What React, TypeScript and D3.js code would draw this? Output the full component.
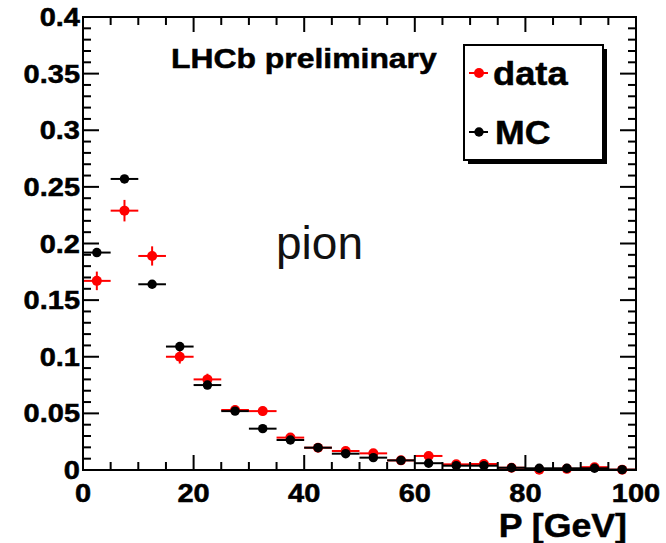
import React from "react";
import * as d3 from "d3";

// Momentum bins (GeV): 5 GeV wide, centres 2.5 ... 97.5
const binCentres = [2.5, 7.5, 12.5, 17.5, 22.5, 27.5, 32.5, 37.5, 42.5, 47.5, 52.5, 57.5, 62.5, 67.5, 72.5, 77.5, 82.5, 87.5, 92.5, 97.5];
const binHalfWidth = 2.5;

const dataValues = [0.167, 0.229, 0.189, 0.100, 0.080, 0.053, 0.052, 0.0286, 0.0197, 0.0168, 0.0147, 0.0085, 0.0124, 0.005, 0.0053, 0.002, 0.0003, 0.001, 0.0025, 0.0003];
const dataErrors = [0.0082, 0.0095, 0.0085, 0.006, 0.005, 0.004, 0.004, 0.003, 0.003, 0.0025, 0.0025, 0.002, 0.002, 0.0015, 0.0015, 0.001, 0.0005, 0.0008, 0.001, 0.0005];

const mcValues = [0.192, 0.257, 0.164, 0.109, 0.075, 0.052, 0.0365, 0.0265, 0.0197, 0.0144, 0.0109, 0.0085, 0.006, 0.0038, 0.0038, 0.002, 0.0015, 0.0015, 0.0015, 0.0003];
const mcErrors = [0.002, 0.002, 0.002, 0.0015, 0.0015, 0.001, 0.001, 0.001, 0.001, 0.001, 0.0008, 0.0008, 0.0006, 0.0005, 0.0005, 0.0004, 0.0003, 0.0003, 0.0003, 0.0002];

const xTicks = [0, 20, 40, 60, 80, 100];
const yTicks = [0, 0.05, 0.1, 0.15, 0.2, 0.25, 0.3, 0.35, 0.4];
const yTickLabels = ["0", "0.05", "0.1", "0.15", "0.2", "0.25", "0.3", "0.35", "0.4"];

const W = 666;
const H = 543;
const left = 83;
const right = 636;
const top = 17;
const bottom = 470;
const FONT = "'Liberation Sans', Arial, Helvetica, sans-serif";

const x = d3.scaleLinear().domain([0, 100]).range([left, right]);
const y = d3.scaleLinear().domain([0, 0.4]).range([bottom, top]);

// Bold label drawn with a slight horizontal stretch around its anchor point
function WideText({ x: tx, y: ty, size, sx, anchor = "start", children }: { x: number; y: number; size: number; sx: number; anchor?: string; children: React.ReactNode }) {
  return (
    <text
      transform={`translate(${tx},${ty}) scale(${sx},1)`}
      textAnchor={anchor}
      fontSize={size}
      fontWeight="bold"
      fill="#000"
      stroke="#000"
      strokeWidth={0.5}
    >
      {children}
    </text>
  );
}

function Series({ values, errors, color, r }: { values: number[]; errors: number[]; color: string; r: number }) {
  return (
    <g>
      {binCentres.map((c, i) => {
        const cx = x(c);
        const cy = y(values[i]);
        return (
          <g key={i}>
            <line x1={x(c - binHalfWidth)} x2={x(c + binHalfWidth)} y1={cy} y2={cy} stroke={color} strokeWidth={2} />
            <line x1={cx} x2={cx} y1={y(values[i] + errors[i])} y2={y(Math.max(0, values[i] - errors[i]))} stroke={color} strokeWidth={2} />
            <circle cx={cx} cy={cy} r={r} fill={color} />
          </g>
        );
      })}
    </g>
  );
}

export default function App() {
  const xMinor = d3.range(0, 100.001, 5);
  const yMinor = d3.range(0, 0.4001, 0.01);
  const majorLen = 15;
  const minorLen = 8;

  return (
    <svg width={W} height={H} style={{ position: "absolute", left: 0, top: 0, background: "#fff" }} fontFamily={FONT}>
      <rect x={0} y={0} width={W} height={H} fill="#fff" />

      <Series values={dataValues} errors={dataErrors} color="#ff0000" r={5} />
      <Series values={mcValues} errors={mcErrors} color="#000000" r={4.7} />

      {/* frame */}
      <rect x={left} y={top} width={right - left} height={bottom - top} fill="none" stroke="#000" strokeWidth={2} />

      {/* x ticks, bottom and top */}
      {xMinor.map((v, i) => {
        const major = Math.abs(v % 20) < 1e-6;
        const len = major ? majorLen : minorLen;
        return (
          <g key={"xt" + i} stroke="#000" strokeWidth={2}>
            <line x1={x(v)} x2={x(v)} y1={bottom} y2={bottom - len} />
            <line x1={x(v)} x2={x(v)} y1={top} y2={top + len} />
          </g>
        );
      })}
      {/* y ticks, left and right */}
      {yMinor.map((v, i) => {
        const major = i % 5 === 0;
        const len = major ? majorLen + 1 : minorLen;
        return (
          <g key={"yt" + i} stroke="#000" strokeWidth={2}>
            <line x1={left} x2={left + len} y1={y(v)} y2={y(v)} />
            <line x1={right} x2={right - len} y1={y(v)} y2={y(v)} />
          </g>
        );
      })}

      {/* tick labels */}
      {xTicks.map((v) => (
        <WideText key={"xl" + v} x={x(v)} y={502} size={25} sx={1.16} anchor="middle">
          {v}
        </WideText>
      ))}
      {yTicks.map((v, i) => (
        <WideText key={"yl" + i} x={80} y={y(v) + 9} size={25} sx={1.16} anchor="end">
          {yTickLabels[i]}
        </WideText>
      ))}

      {/* axis title */}
      <WideText x={627} y={537} size={34} sx={1.05} anchor="end">
        P [GeV]
      </WideText>

      {/* annotations */}
      <WideText x={171} y={68} size={27.5} sx={1.16}>
        LHCb preliminary
      </WideText>
      <text x={276} y={259} fontSize={46} fill="#111">
        pion
      </text>

      {/* legend */}
      <rect x={468} y={49} width={139} height={115} fill="#000" />
      <rect x={464} y={45} width={139} height={115} fill="#fff" stroke="#000" strokeWidth={2} />
      <line x1={469} x2={488} y1={73} y2={73} stroke="#ff0000" strokeWidth={2} />
      <circle cx={479} cy={73} r={5} fill="#ff0000" />
      <WideText x={493} y={85} size={33} sx={1.1}>data</WideText>
      <line x1={469} x2={488} y1={132} y2={132} stroke="#000" strokeWidth={2} />
      <circle cx={479} cy={132} r={4.7} fill="#000" />
      <WideText x={495} y={144} size={33} sx={1.08}>MC</WideText>
    </svg>
  );
}
